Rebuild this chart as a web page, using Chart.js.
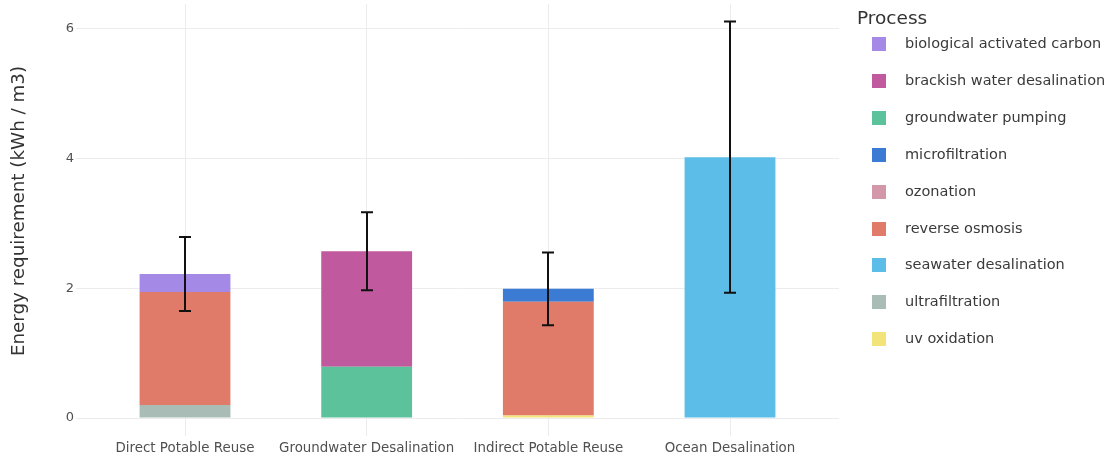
<!DOCTYPE html>
<html>
<head>
<meta charset="utf-8">
<script src="https://cdn.jsdelivr.net/npm/chart.js@4/dist/chart.umd.min.js"></script>
<style>
  html, body { margin: 0; padding: 0; background: #fff; }
  #wrap { position: relative; width: 1111px; height: 458px; }
  #chart { position: absolute; left: 0; top: 0; }
  #legend { position: absolute; left: 856px; top: 0; font-family: "DejaVu Sans", sans-serif; }
  #legend .title { position: absolute; left: 1px; top: 7px; font-size: 18.5px; color: #333; white-space: nowrap; }
  #legend .item { position: absolute; left: 16px; height: 16px; white-space: nowrap; font-size: 14.5px; color: #3a3a3a; line-height: 16px; }
  #legend .sw { position: absolute; left: 0; top: 1px; width: 14px; height: 14px; }
  #legend .lbl { position: absolute; left: 33px; top: -1px; }
</style>
</head>
<body>
<div id="wrap">
  <canvas id="chart" width="1111" height="458"></canvas>
  <div id="legend"></div>
</div>
<script>
// Water supply options and their energy breakdown by treatment process (kWh / m3)
const categories = ["Direct Potable Reuse", "Groundwater Desalination", "Indirect Potable Reuse", "Ocean Desalination"];

const processes = [
  "biological activated carbon",
  "brackish water desalination",
  "groundwater pumping",
  "microfiltration",
  "ozonation",
  "reverse osmosis",
  "seawater desalination",
  "ultrafiltration",
  "uv oxidation"
];

// Per-process energy, one value per category (null = process not used)
const biologicalActivatedCarbon = [0.28, null, null, null];
const brackishWaterDesalination = [null, 1.78, null, null];
const groundwaterPumping        = [null, 0.79, null, null];
const microfiltration           = [null, null, 0.20, null];
const ozonation                 = [null, null, null, null];
const reverseOsmosis            = [1.74, null, 1.75, null];
const seawaterDesalination      = [null, null, null, 4.02];
const ultrafiltration           = [0.20, null, null, null];
const uvOxidation               = [null, null, 0.04, null];

// Uncertainty range of the total for each category
const errorLow  = [1.65, 1.97, 1.43, 1.93];
const errorHigh = [2.79, 3.17, 2.55, 6.11];

const yTicks = [0, 2, 4, 6];

const processColors = {
  "biological activated carbon": "#a48ae6",
  "brackish water desalination": "#c0599d",
  "groundwater pumping": "#5cc29c",
  "microfiltration": "#3b7bd4",
  "ozonation": "#d397aa",
  "reverse osmosis": "#e07b69",
  "seawater desalination": "#5bbde8",
  "ultrafiltration": "#a9bdb6",
  "uv oxidation": "#f3e479"
};

// Stacking order from bottom to top
const stackOrder = [
  ["ultrafiltration", ultrafiltration],
  ["groundwater pumping", groundwaterPumping],
  ["uv oxidation", uvOxidation],
  ["ozonation", ozonation],
  ["reverse osmosis", reverseOsmosis],
  ["brackish water desalination", brackishWaterDesalination],
  ["microfiltration", microfiltration],
  ["biological activated carbon", biologicalActivatedCarbon],
  ["seawater desalination", seawaterDesalination]
];

const datasets = stackOrder.map(([name, values]) => ({
  label: name,
  data: values.map((v, i) => (v === null ? null : { x: i, y: v })).filter(p => p !== null),
  backgroundColor: processColors[name],
  borderWidth: 0,
  barPercentage: 0.5,
  categoryPercentage: 1.0
}));

const gridColor = "#ececef";
const font = "'DejaVu Sans', sans-serif";

// Draws vertical error bars with caps over each stacked column
const errorBars = {
  id: "errorBars",
  afterDatasetsDraw(chart) {
    const { ctx, scales: { x, y } } = chart;
    ctx.save();
    ctx.strokeStyle = "#111";
    ctx.lineWidth = 2;
    categories.forEach((_, i) => {
      const px = Math.round(x.getPixelForValue(i));
      const top = y.getPixelForValue(errorHigh[i]);
      const bot = y.getPixelForValue(errorLow[i]);
      const half = 6;
      ctx.beginPath();
      ctx.moveTo(px, top); ctx.lineTo(px, bot);
      ctx.moveTo(px - half, top); ctx.lineTo(px + half, top);
      ctx.moveTo(px - half, bot); ctx.lineTo(px + half, bot);
      ctx.stroke();
    });
    ctx.restore();
  }
};

new Chart(document.getElementById("chart"), {
  type: "bar",
  data: { datasets },
  plugins: [errorBars],
  options: {
    responsive: false,
    animation: false,
    events: [],
    layout: { padding: { left: 0, right: 272, top: 4, bottom: 0 } },
    plugins: { legend: { display: false }, tooltip: { enabled: false } },
    scales: {
      x: {
        type: "linear",
        stacked: true,
        offset: false,
        min: -0.6,
        max: 3.6,
        afterBuildTicks: s => { s.ticks = categories.map((_, i) => ({ value: i })); },
        afterFit: s => { s.height = 40; s.paddingLeft = 0; s.paddingRight = 0; },
        border: { display: false },
        grid: { color: gridColor, lineWidth: 1, tickLength: 18, drawTicks: true, offset: false },
        ticks: {
          padding: 4,
          color: "#505050",
          font: { family: font, size: 13.4 },
          maxRotation: 0,
          autoSkip: false,
          callback: v => categories[v]
        }
      },
      y: {
        stacked: true,
        min: 0,
        max: 6.38,
        afterBuildTicks: s => { s.ticks = yTicks.map(v => ({ value: v })); },
        afterFit: s => { s.width = 76; s.paddingTop = 0; s.paddingBottom = 0; },
        border: { display: false },
        grid: { color: gridColor, lineWidth: 1, drawTicks: false },
        ticks: { padding: 2, color: "#505050", font: { family: font, size: 13 } },
        title: {
          display: true,
          text: "Energy requirement (kWh / m3)",
          color: "#333",
          font: { family: font, size: 18.3 },
          padding: { top: 8, bottom: 0 }
        }
      }
    }
  }
});

// Legend listing every process in alphabetical order
const legend = document.getElementById("legend");
const title = document.createElement("div");
title.className = "title";
title.textContent = "Process";
legend.appendChild(title);
processes.forEach((name, k) => {
  const item = document.createElement("div");
  item.className = "item";
  item.style.top = (36 + k * 36.9) + "px";
  const sw = document.createElement("span");
  sw.className = "sw";
  sw.style.background = processColors[name];
  const lbl = document.createElement("span");
  lbl.className = "lbl";
  lbl.textContent = name;
  item.appendChild(sw);
  item.appendChild(lbl);
  legend.appendChild(item);
});
</script>
</body>
</html>
